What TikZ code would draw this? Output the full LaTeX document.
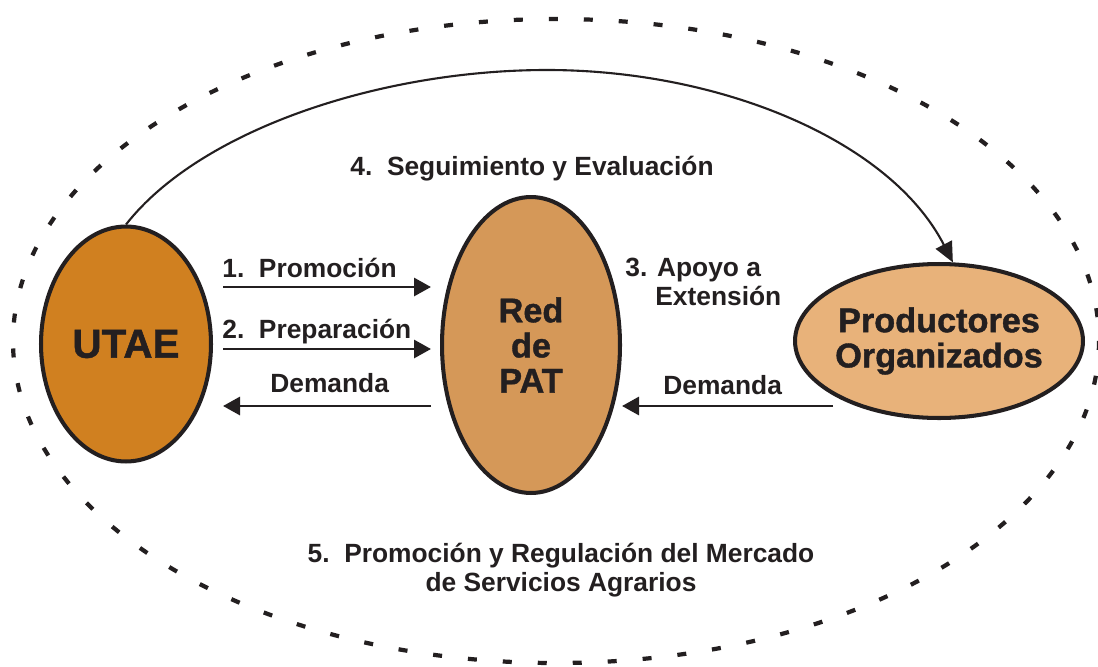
\documentclass[tikz,border=0pt]{standalone}
\usepackage{fontspec}
\setmainfont{Liberation Sans}
\usetikzlibrary{shapes.geometric,arrows.meta}

\definecolor{utaeorange}{RGB}{208,128,32}
\definecolor{patorange}{RGB}{213,152,88}
\definecolor{prodorange}{RGB}{232,178,122}
\definecolor{inkblack}{RGB}{35,31,32}

\tikzset{
  actor/.style={ellipse,draw=inkblack,line width=2.3pt,inner sep=0pt},
  actortext/.style={font=\bfseries\addfontfeature{FakeBold=1.2}\fontsize{19.5}{20}\selectfont,text=inkblack,align=center,inner sep=0pt},
  flow/.style={-{Triangle[length=3.4mm,width=3.6mm]},draw=inkblack,line width=1.7pt},
  lbl/.style={font=\bfseries\fontsize{15}{16.5}\selectfont,text=inkblack,inner sep=0pt},
}

\begin{document}
\begin{tikzpicture}[x=0.02cm,y=-0.02cm]
\useasboundingbox (0,0) rectangle (1098,666);

% dotted boundary of the market
\draw[inkblack,line width=2.4pt,dash pattern=on 0.18cm off 0.52cm]
  (556,341) ellipse [x radius=543,y radius=322];

% actors
\node[actor,fill=utaeorange,minimum width=3.4cm,minimum height=4.7cm,
  label={[actortext,font=\bfseries\addfontfeature{FakeBold=1.2}\fontsize{23}{23}\selectfont]center:UTAE}] (utae) at (126,344) {};
\node[actor,fill=patorange,minimum width=3.56cm,minimum height=5.92cm,
  label={[actortext]center:Red\\de\\PAT}] (pat) at (531,345) {};
\node[actor,fill=prodorange,minimum width=5.76cm,minimum height=3.08cm,
  label={[actortext]center:Productores\\Organizados}] (prod) at (939,341) {};

% horizontal flows
\draw[flow,shorten <=0.2cm,shorten >=0.18cm] (utae.east |- 0,287) -- (pat.west |- 0,287);
\draw[flow,shorten <=0.2cm,shorten >=0.18cm] (utae.east |- 0,349) -- (pat.west |- 0,349);
\draw[flow,shorten <=0.18cm,shorten >=0.2cm] (pat.west |- 0,406) -- (utae.east |- 0,406);
\coordinate (dem) at (833,406);
\draw[flow] (dem) -- (pat.east |- dem);

% follow-up arc
\coordinate (arctop) at (547,70);
\draw[flow,line width=1.2pt,-{Triangle[length=4mm,width=3.6mm]}]
  (utae.north) .. controls (200,130) and (380,70) .. (arctop)
  .. controls (720,70) and (890,140) .. (prod.80);

% labels
\node[lbl,anchor=base west] (l1) at (222,277) {1.\ \ Promoción};
\node[lbl,anchor=base west] (l2) at (222,338) {2.\ \ Preparación};
\node[lbl,anchor=base west] (l3) at (270,392) {Demanda};
\node[lbl,anchor=base west] (l4) at (663,394) {Demanda};
\node[lbl,anchor=north west,align=left] (l5) at (625,258) {3. Apoyo a\\\hspace*{0.6cm}Extensión};
\node[lbl,anchor=base] (l6) at (532,175) {4.\ \ Seguimiento y Evaluación};
\node[lbl,align=center] (l7) at (561,570) {5.\ \ Promoción y Regulación del Mercado\\de Servicios Agrarios};
\end{tikzpicture}
\end{document}
